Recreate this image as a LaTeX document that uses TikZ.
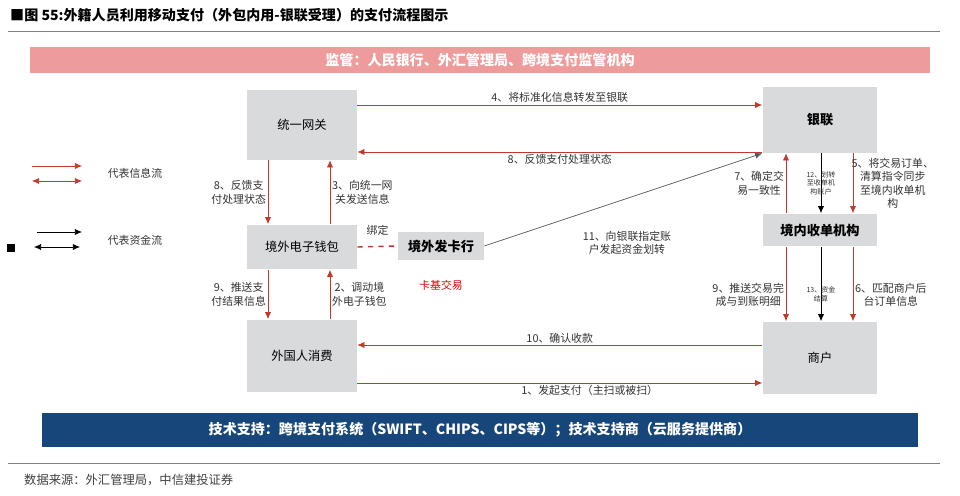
\documentclass[tikz,border=0pt]{standalone}
\usepackage{fontspec}
\setmainfont{Noto Sans CJK SC}
\usetikzlibrary{positioning, arrows.meta}
\definecolor{boxgray}{HTML}{D9DADC}
\definecolor{infored}{HTML}{C0392B}
\definecolor{pinkbar}{HTML}{EE9B9B}
\definecolor{bluebar}{HTML}{16467A}

\begin{document}
\begin{tikzpicture}[x=0.02cm, y=-0.02cm, font=\fontsize{6.2}{7.6}\selectfont]
    \tikzstyle{box} = [rectangle, fill=boxgray, inner sep=0pt]
    \tikzstyle{info} = [draw=infored, -{Latex[length=4pt, width=3.5pt]}]
    \tikzstyle{fund} = [draw=black, -{Latex[length=4pt, width=3.5pt]}]
    \tikzstyle{ann} = [align=center, inner sep=1pt, text=black!80]
    \useasboundingbox (0,0) rectangle (960,496);
    % title and frame lines
    \node[anchor=west, font=\fontsize{8}{9}\selectfont\bfseries] (title) at (4,15) {■图 55:外籍人员利用移动支付（外包内用-银联受理）的支付流程图示};
    \draw[gray] (8,31) -- (940,31);
    \draw[gray] (8,463) -- (940,463);
    \node[anchor=west, font=\fontsize{7}{8}\selectfont, text=black!75] (src) at (18,480) {数据来源：外汇管理局，中信建投证券};
    % banners
    \node[box, fill=pinkbar, minimum width=18cm, minimum height=0.52cm, text=white, font=\fontsize{8}{9}\selectfont\bfseries] (reg) at (480,60) {监管：人民银行、外汇管理局、跨境支付监管机构};
    \node[box, fill=bluebar, minimum width=17.52cm, minimum height=0.68cm, text=white, font=\fontsize{8}{9}\selectfont\bfseries] (tech) at (480,430) {技术支持：跨境支付系统（SWIFT、CHIPS、CIPS等）；技术支持商（云服务提供商）};
    % boxes
    \node[box, minimum width=2.2cm, minimum height=1.4cm, font=\fontsize{7}{8}\selectfont] (gate) at (302,125) {统一网关};
    \node[box, minimum width=2.2cm, minimum height=0.9cm, font=\fontsize{7}{8}\selectfont] (wallet) at (302,247) {境外电子钱包};
    \node[box, minimum width=2.2cm, minimum height=1.46cm, font=\fontsize{7}{8}\selectfont] (cons) at (302,356) {外国人消费};
    \node[box, minimum width=1.72cm, minimum height=0.56cm, font=\fontsize{7.5}{8}\selectfont\bfseries] (issuer) at (441,246) {境外发卡行};
    \node[box, minimum width=2.3cm, minimum height=1.32cm, font=\fontsize{7.5}{8}\selectfont\bfseries] (unionpay) at (820,120) {银联};
    \node[box, minimum width=2.3cm, minimum height=0.66cm, font=\fontsize{7.5}{8}\selectfont\bfseries] (acq) at (820,230) {境内收单机构};
    \node[box, minimum width=2.3cm, minimum height=1.46cm, font=\fontsize{7}{8}\selectfont] (merch) at (820,358) {商户};
    % horizontal flows
    \draw[info] (gate.east |- 0,105) -- (unionpay.west |- 0,105) node[midway, above, ann] {4、将标准化信息转发至银联};
    \draw[info] (unionpay.west |- 0,152) -- (gate.east |- 0,152) node[midway, below, ann] {8、反馈支付处理状态};
    \draw[info] (merch.west |- 0,345) -- (cons.east |- 0,345) node[midway, above, ann] {10、确认收款};
    \draw[info] (cons.east |- 0,383) -- (merch.west |- 0,383) node[midway, below, ann, xshift=0.6cm] {1、发起支付（主扫或被扫）};
    % left verticals
    \draw[info] (gate.south -| 268,0) -- (wallet.north -| 268,0) node[midway, left, ann] {8、反馈支\\付处理状态};
    \draw[info] (wallet.north -| 330,0) -- (gate.south -| 330,0) node[midway, right, ann] {3、向统一网\\关发送信息};
    \draw[info] (wallet.south -| 268,0) -- (cons.north -| 268,0) node[midway, left, ann] {9、推送支\\付结果信息};
    \draw[info] (cons.north -| 330,0) -- (wallet.south -| 330,0) node[midway, right, ann] {2、调动境\\外电子钱包};
    % issuer
    \draw[infored, dashed, thick] (wallet.east) -- (issuer.west) node[midway, above=5pt, ann] {绑定};
    \node[ann, text=red!85!black, below=10pt of issuer] (card) {卡基交易};
    \draw[fund, draw=black!65] (issuer.east) -- (unionpay.south west) node[pos=0.45, below=14pt, xshift=10pt, ann] {11、向银联指定账\\户发起资金划转};
    % right verticals
    \draw[info] (acq.north -| 786,0) -- (unionpay.south -| 786,0) node[midway, left, ann] {7、确定交\\易一致性};
    \draw[fund] (unionpay.south -| 821,0) -- (acq.north -| 821,0) node[midway, ann, font=\fontsize{4}{5}\selectfont] {12、划转\\至收单机\\构账户};
    \draw[info] (unionpay.south -| 853,0) -- (acq.north -| 853,0) node[midway, right, ann, xshift=-2pt] {5、将交易订单、\\清算指令同步\\至境内收单机\\构};
    \draw[info] (acq.south -| 786,0) -- (merch.north -| 786,0) node[midway, left, ann, yshift=-6pt] {9、推送交易完\\成与到账明细};
    \draw[fund] (acq.south -| 821,0) -- (merch.north -| 821,0) node[midway, ann, yshift=-6pt, font=\fontsize{4}{5}\selectfont] {13、资金\\结算};
    \draw[info] (acq.south -| 853,0) -- (merch.north -| 853,0) node[midway, right, ann, yshift=-6pt] {6、匹配商户后\\台订单信息};
    % legend
    \coordinate (lr1a) at (32,166); \coordinate (lr1b) at (82,166);
    \coordinate (lr2a) at (32,181); \coordinate (lr2b) at (82,181);
    \coordinate (lb1a) at (37,232); \coordinate (lb1b) at (82,232);
    \coordinate (lb2a) at (34,247); \coordinate (lb2b) at (80,247);
    \draw[info] (lr1a) -- (lr1b);
    \draw[info, {Latex[length=4pt, width=3.5pt]}-{Latex[length=4pt, width=3.5pt]}] (lr2a) -- (lr2b);
    \draw[fund] (lb1a) -- (lb1b);
    \draw[fund, {Latex[length=4pt, width=3.5pt]}-{Latex[length=4pt, width=3.5pt]}] (lb2a) -- (lb2b);
    \node[ann] (linfo) at (135,173) {代表信息流};
    \node[ann] (lfund) at (135,240) {代表资金流};
    \node[fill=black, inner sep=0pt, minimum size=4pt] (mark) at (11,248) {};
\end{tikzpicture}
\end{document}
